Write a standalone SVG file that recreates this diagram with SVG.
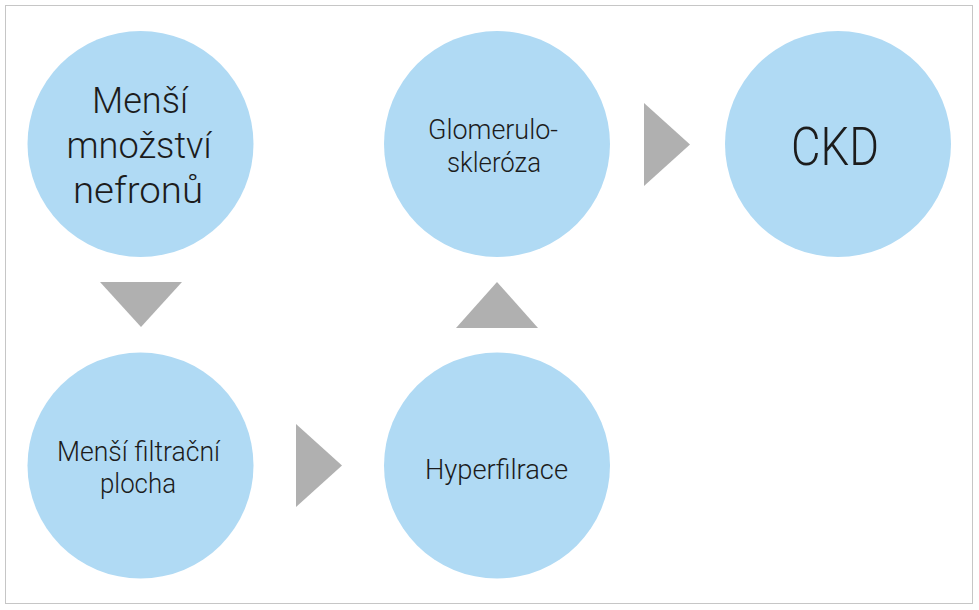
<svg xmlns="http://www.w3.org/2000/svg" width="979" height="610" viewBox="0 0 979 610">
<style>
.node{fill:#b0daf4}
.lbl{font-family:Roboto,"Open Sans","Liberation Sans",sans-serif;font-weight:300;fill:#1c1c1c;text-anchor:middle}
.big{font-size:36px}
.sm{font-size:28px}
.ckd{font-size:53px}
.arr{fill:#b0b0b0}
</style>
<rect x="5.5" y="5.5" width="967" height="598" fill="#ffffff" stroke="#c6c6c6" stroke-width="1"/>
<g id="connectors">
<polygon class="arr" points="100,282 182,282 141,327"/>
<polygon class="arr" points="296,424 342,465.5 296,507"/>
<polygon class="arr" points="456,328 538,328 497,282"/>
<polygon class="arr" points="644,103 690,144.5 644,186"/>
</g>
<g id="n1">
<circle class="node" cx="140.5" cy="144" r="113"/>
<text class="lbl big" x="140" y="113" textLength="96" lengthAdjust="spacingAndGlyphs">Menší</text>
<text class="lbl big" x="139" y="158" textLength="145" lengthAdjust="spacingAndGlyphs">množství</text>
<text class="lbl big" x="138" y="203" textLength="130" lengthAdjust="spacingAndGlyphs">nefronů</text>
</g>
<g id="n2">
<circle class="node" cx="140.5" cy="465.5" r="113"/>
<text class="lbl sm" x="138.5" y="461" textLength="163" lengthAdjust="spacingAndGlyphs">Menší filtrační</text>
<text class="lbl sm" x="138" y="493" textLength="76" lengthAdjust="spacingAndGlyphs">plocha</text>
</g>
<g id="n3">
<circle class="node" cx="497" cy="465.5" r="113"/>
<text class="lbl sm" x="496.5" y="479" textLength="143" lengthAdjust="spacingAndGlyphs">Hyperfilrace</text>
</g>
<g id="n4">
<circle class="node" cx="497" cy="144" r="113"/>
<text class="lbl sm" x="493" y="139" textLength="130" lengthAdjust="spacingAndGlyphs">Glomerulo-</text>
<text class="lbl sm" x="494" y="172" textLength="94" lengthAdjust="spacingAndGlyphs">skleróza</text>
</g>
<g id="n5">
<circle class="node" cx="838" cy="144" r="113"/>
<text class="lbl ckd" x="835" y="165" textLength="88" lengthAdjust="spacingAndGlyphs">CKD</text>
</g>
</svg>
